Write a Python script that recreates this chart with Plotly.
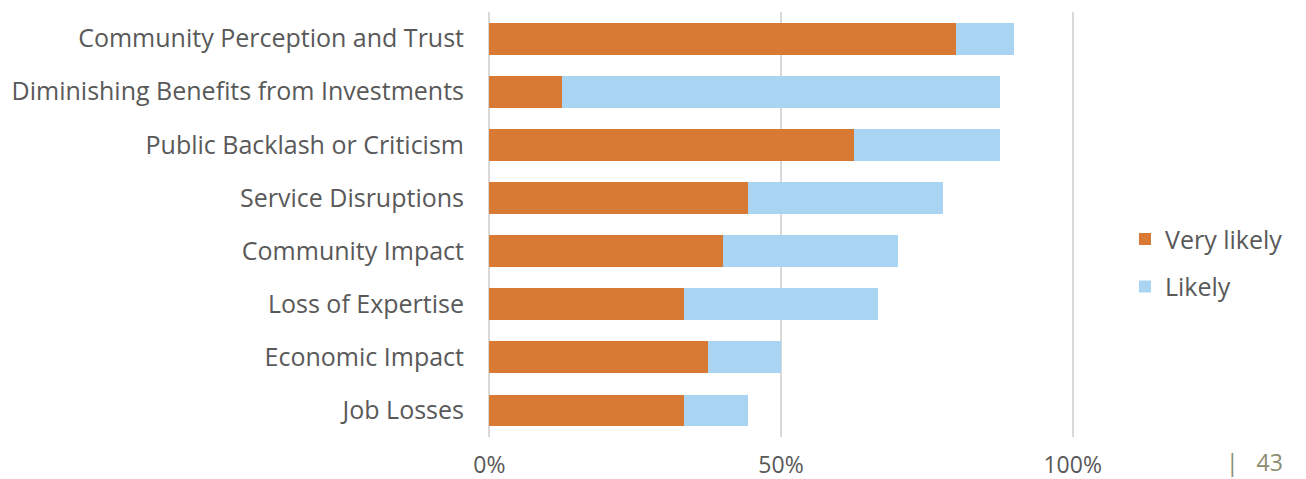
import plotly.graph_objects as go

categories = [
    "Community Perception and Trust",
    "Diminishing Benefits from Investments",
    "Public Backlash or Criticism",
    "Service Disruptions",
    "Community Impact",
    "Loss of Expertise",
    "Economic Impact",
    "Job Losses",
]
very_likely = [0.80, 0.125, 0.625, 0.444, 0.40, 0.333, 0.375, 0.333]
likely = [0.10, 0.75, 0.25, 0.333, 0.30, 0.333, 0.125, 0.111]
tick_vals = [0, 0.5, 1.0]
tick_text = ["0%", "50%", "100%"]
page_number = "|   43"

FONT = "Open Sans"
TEXT = "#595959"

fig = go.Figure()
fig.add_trace(go.Bar(y=categories, x=very_likely, name="Very likely", orientation="h",
                     marker=dict(color="#D87A33", line=dict(width=0)), legendgroup="a"))
fig.add_trace(go.Bar(y=categories, x=likely, name="Likely", orientation="h",
                     marker=dict(color="#A9D5F3", line=dict(width=0)), legendgroup="b"))

# page body has an 8px default margin, so the figure is shrunk by 8px each way
fig.update_layout(
    width=1298, height=471,
    barmode="stack", bargap=0.4,
    paper_bgcolor="white", plot_bgcolor="white",
    margin=dict(l=479, r=231, t=4, b=42, autoexpand=False),
    font=dict(family=FONT, color=TEXT, size=25),
    legend=dict(x=1.085, y=0.41, xanchor="left", yanchor="middle",
                traceorder="grouped", tracegroupgap=12,
                font=dict(size=25, color=TEXT), itemwidth=30),
    xaxis=dict(range=[-0.004, 1.004], tickvals=tick_vals, ticktext=tick_text,
               showgrid=True, gridcolor="#D9D9D9", gridwidth=2,
               zeroline=False, showline=False, ticks="", automargin=False,
               ticklabelstandoff=12, tickfont=dict(size=23, color=TEXT)),
    yaxis=dict(categoryorder="array", categoryarray=categories, autorange="reversed",
               showgrid=False, zeroline=False, showline=False, ticks="", automargin=False,
               ticklabelstandoff=22, tickfont=dict(size=25, color=TEXT)),
    showlegend=True,
)
fig.add_annotation(text=page_number, xref="paper", yref="paper", x=1.357, y=-0.058,
                   xanchor="right", yanchor="middle", showarrow=False,
                   font=dict(size=23, color="#8C8C70", family=FONT))
fig.write_html("out.html")
